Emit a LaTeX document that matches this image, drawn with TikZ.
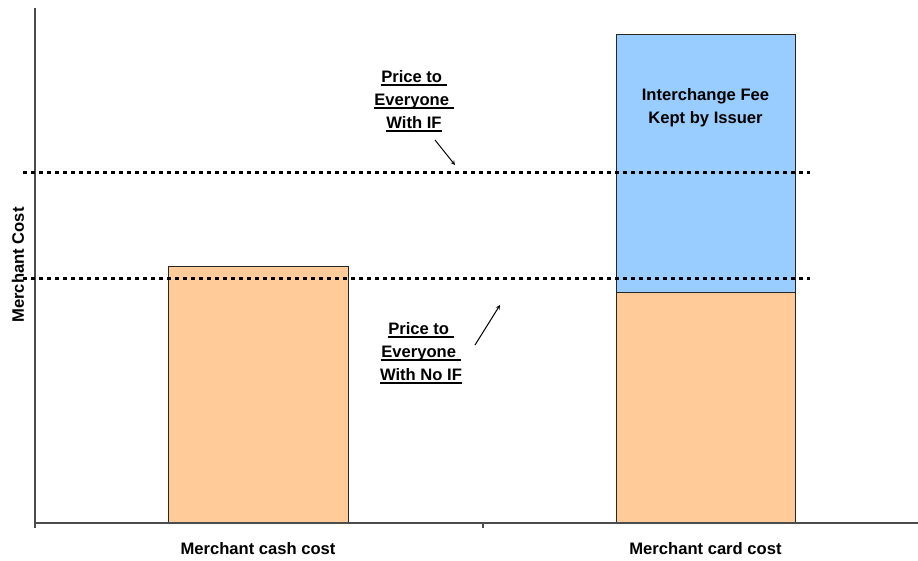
\documentclass[tikz,border=0pt]{standalone}
\usepackage{fontspec}
\setmainfont{Liberation Sans}
\usepackage{xcolor}
\usepackage{tikz}
\usetikzlibrary{positioning,calc}

\definecolor{cashorange}{HTML}{FFCC99}
\definecolor{feeblue}{HTML}{99CCFF}
\newcommand{\undertext}[1]{\setbox0\hbox{#1}\rlap{\rule[-3.4pt]{\wd0}{2pt}}\box0}

\begin{document}
\begin{tikzpicture}[x=1pt,y=-1pt,
		bar/.style={rectangle, draw=black!85, line width=0.9pt, anchor=south west, inner sep=0pt, outer sep=0pt},
		lbl/.style={font=\fontsize{16.6}{23}\selectfont\bfseries, align=center},
		priceline/.style={line width=3pt, dash pattern=on 4pt off 4pt},
		axis/.style={draw=black!70, line width=1.2pt}]
		\useasboundingbox (0,0) rectangle (918,560);
		
		% bars
		\node [bar, fill=cashorange, minimum width=180pt, minimum height=257pt] (cash) at (168,523){};
		\node [bar, fill=cashorange, minimum width=179pt, minimum height=231pt] (card) at (616,523){};
		\node [bar, fill=feeblue, minimum width=179pt, minimum height=258pt, anchor=south] (fee) at (card.north){};
		
		% axes
		\coordinate (o) at (35,523);
		\coordinate (ytop) at (35,8);
		\coordinate (xend) at (918,523);
		\draw[axis] (ytop)--(o)--(xend);
		\draw[axis] (o)--++(0,5);
		\draw[axis] (483,523)--++(0,5);
		
		% price lines
		\coordinate (hiL) at (23,172);
		\coordinate (hiR) at (810,172);
		\coordinate (loL) at (23,278);
		\coordinate (loR) at (810,278);
		\draw[priceline] (hiL)--(hiR);
		\draw[priceline] (loL)--(loR);
		
		% texts
		\node [lbl] (withif) at (414,101) {\undertext{Price to }\\\undertext{Everyone }\\\undertext{With IF}};
		\node [lbl] (noif) at (421,353) {\undertext{Price to }\\\undertext{Everyone }\\\undertext{With No IF}};
		\node [lbl] (feet) at (fee.center |- 0,108) {Interchange Fee\\Kept by Issuer};
		\node [lbl, rotate=90] (ylab) at (18,265) {Merchant Cost};
		\node [lbl] (cashlab) at (cash.south |- 0,549) {Merchant cash cost};
		\node [lbl] (cardlab) at (card.south |- 0,549) {Merchant card cost};
		
		% pointers
		\coordinate (hitip) at (455,165);
		\coordinate (lotip) at (500,305);
		\draw[-stealth, line width=1pt] (435,140)--(hitip);
		\draw[-stealth, line width=1pt] (475,345)--(lotip);
	\end{tikzpicture}
\end{document}
